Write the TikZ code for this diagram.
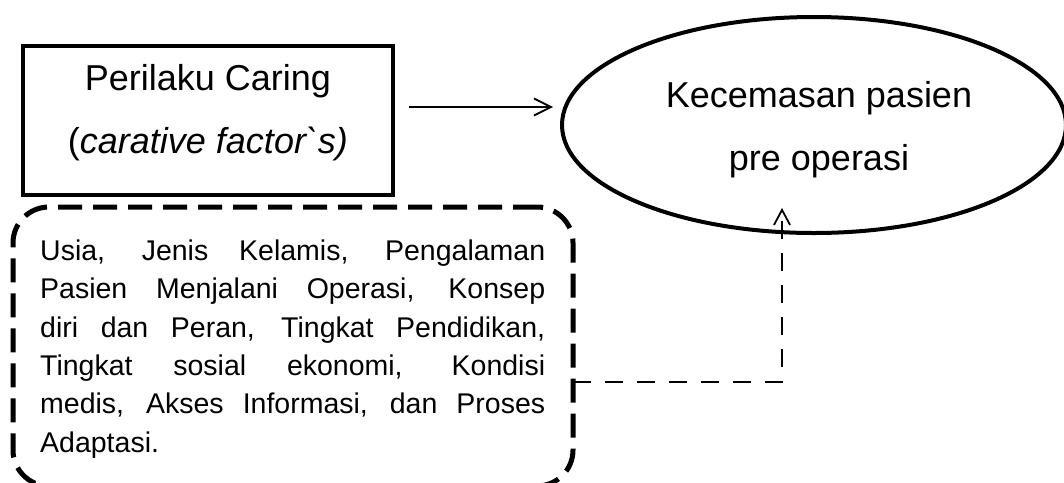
\documentclass[tikz,border=0pt]{standalone}
\usepackage{fontspec}
\setmainfont{Liberation Sans}
\usetikzlibrary{arrows.meta,shapes.geometric}
\begin{document}
\begin{tikzpicture}[x=1pt,y=-1pt,
  solidbox/.style={draw, rectangle, line width=4pt, minimum width=370pt,
    minimum height=149pt, inner sep=0pt, outer sep=0pt},
  oval/.style={draw, ellipse, line width=4pt, minimum width=504pt,
    minimum height=216pt, inner sep=0pt, outer sep=0pt},
  factorbox/.style={draw, rectangle, line width=5pt, rounded corners=36pt,
    dash pattern=on 24pt off 11pt, minimum width=560pt, minimum height=279pt,
    inner sep=0pt, outer sep=0pt},
  bigtext/.style={font=\fontsize{36}{43}\selectfont, anchor=base, inner sep=0pt},
  smalltext/.style={font=\fontsize{28.5}{38.4}\selectfont, anchor=north west,
    inner sep=0pt, text width=505pt, align=justify},
  link/.style={line width=1.8pt},
  dashlink/.style={line width=1.8pt, dash pattern=on 18pt off 14pt},
  barbA/.style={-{Straight Barb[length=17pt,width=17pt]}},
  barbB/.style={-{Straight Barb[length=15pt,width=16pt]}}
]
\useasboundingbox (0,0) rectangle (1064,482);

% caring behaviour box
\node[solidbox] (caring) at (208,120) {};
\node[bigtext] (caringA) at (208,90) {Perilaku Caring};
\node[bigtext] (caringB) at (208,153) {(\textit{carative factor\textasciigrave s)}};

% patient anxiety ellipse
\node[oval] (pasien) at (814,125) {};
\node[bigtext] (pasienA) at (819,107) {Kecemasan pasien};
\node[bigtext] (pasienB) at (819,170) {pre operasi};

% influencing factors (dashed rounded box)
\node[factorbox] (factors) at (293,346.5) {};
\node[smalltext] (factorsText) at (40,239.5) {\tolerance=10000\hyphenpenalty=10000
Usia, Jenis Kelamis, Pengalaman\linebreak
Pasien Menjalani Operasi, Konsep\linebreak
diri dan Peran, Tingkat Pendidikan,\linebreak
Tingkat sosial ekonomi, Kondisi\linebreak
medis, Akses Informasi, dan Proses\linebreak
Adaptasi.};

% connectors
\draw[link, barbA, shorten <=16pt, shorten >=9pt]
  ([yshift=13pt]caring.east) -- ([yshift=13pt]caring.east -| pasien.west);

\coordinate (bend) at (782,382);
\coordinate (tipend) at (782,208);
\draw[dashlink, barbB] (factors.east |- bend) -- (bend) -- (tipend);
\end{tikzpicture}
\end{document}
